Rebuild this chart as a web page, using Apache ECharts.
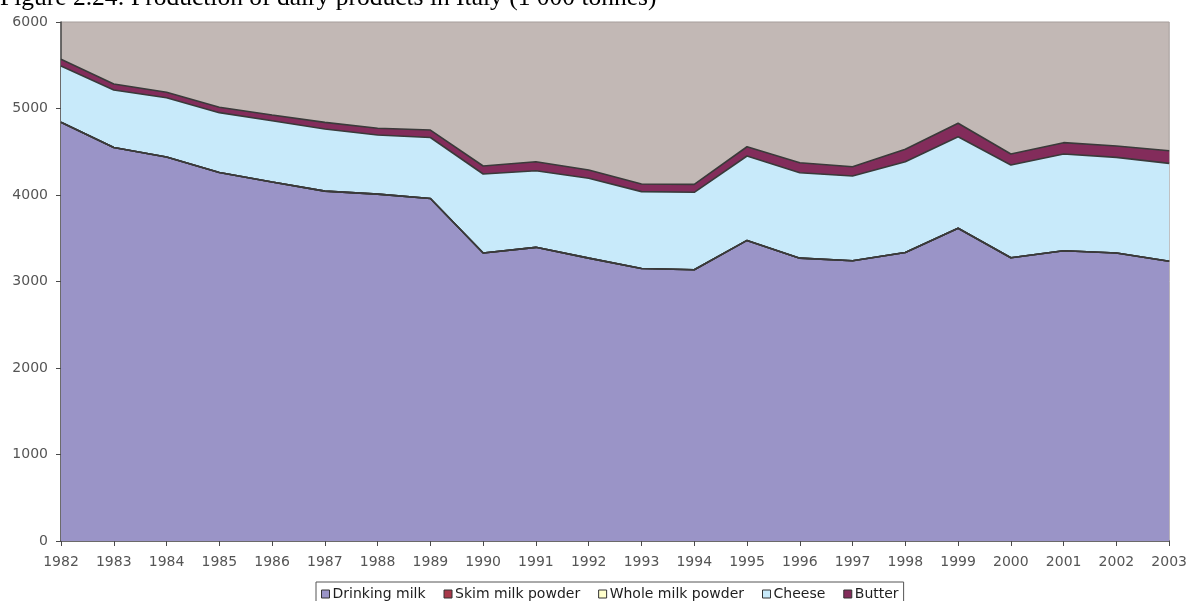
<!DOCTYPE html>
<html>
<head>
<meta charset="utf-8">
<script src="https://cdn.jsdelivr.net/npm/echarts@6/dist/echarts.min.js"></script>
<style>
  html, body { margin: 0; padding: 0; background: #ffffff; }
  #chart { width: 1190px; height: 601px; }
</style>
</head>
<body>
<div id="chart"></div>
<script>
// Production of dairy products in Italy, 1 000 tonnes
const years = ['1982','1983','1984','1985','1986','1987','1988','1989','1990','1991','1992',
               '1993','1994','1995','1996','1997','1998','1999','2000','2001','2002','2003'];

const drinkingMilk = [4840,4550,4440,4260,4150,4045,4010,3960,3330,3395,3270,
                      3150,3135,3475,3270,3240,3335,3615,3275,3355,3330,3235];
const skimMilkPowder = [0,0,0,0,0,0,0,0,0,0,0,0,0,0,0,0,0,0,0,0,0,0];
const wholeMilkPowder = [0,0,0,0,0,0,0,0,0,0,0,0,0,0,0,0,0,0,0,0,0,0];
const cheese = [651,664,685,692,709,718,684,705,913,886,923,
                889,896,976,988,980,1050,1059,1072,1119,1105,1131];
const butter = [78,69,62,62,66,77,77,86,92,104,96,
                88,92,107,115,107,143,155,127,131,131,146];

const yTicks = { min: 0, max: 6000, interval: 1000 };

const titleText = 'Figure 2.24: Production of dairy products in Italy (1 000 tonnes)';

const edge = '#3a3a3a';
function band(name, values, fill) {
  return {
    name: name,
    type: 'line',
    stack: 'total',
    data: values,
    symbol: 'none',
    color: fill,
    lineStyle: { color: edge, width: 1.6 },
    areaStyle: { color: fill, opacity: 1 },
    emphasis: { disabled: true }
  };
}

const chart = echarts.init(document.getElementById('chart'), null, { renderer: 'canvas' });
chart.setOption({
  animation: false,
  backgroundColor: '#ffffff',
  textStyle: { fontFamily: 'DejaVu Sans' },
  graphic: [{
    type: 'text',
    x: 0,
    y: 11,
    style: {
      text: titleText,
      fontFamily: 'Liberation Serif',
      fontSize: 25.5,
      fill: '#000000',
      verticalAlign: 'bottom'
    }
  }],
  grid: {
    left: 61, right: 18, top: 22, bottom: 60,
    show: true,
    backgroundColor: '#C2B8B5',
    borderColor: '#a59d9b',
    borderWidth: 1
  },
  legend: {
    left: 316,
    top: 582,
    icon: 'rect',
    itemWidth: 8,
    itemHeight: 8,
    itemGap: 18,
    padding: [5, 5, 6, 5],
    borderColor: '#555',
    borderWidth: 1,
    backgroundColor: '#ffffff',
    itemStyle: { borderColor: '#333', borderWidth: 1 },
    textStyle: { fontFamily: 'DejaVu Sans', fontSize: 14, color: '#1e1e1e', padding: [0, 0, 0, -2] },
    data: ['Drinking milk', 'Skim milk powder', 'Whole milk powder', 'Cheese', 'Butter']
  },
  xAxis: {
    type: 'category',
    data: years,
    boundaryGap: false,
    axisLine: { lineStyle: { color: '#4a4a4a', width: 1.5 } },
    axisTick: { show: true, length: 5, alignWithLabel: true, lineStyle: { color: '#4a4a4a' } },
    axisLabel: { color: '#555', fontSize: 14, fontFamily: 'DejaVu Sans', margin: 14 },
    splitLine: { show: false }
  },
  yAxis: {
    type: 'value',
    min: yTicks.min,
    max: yTicks.max,
    interval: yTicks.interval,
    axisLine: { show: true, lineStyle: { color: '#4a4a4a', width: 1.5 } },
    axisTick: { show: true, length: 5, lineStyle: { color: '#4a4a4a' } },
    axisLabel: {
      color: '#555', fontSize: 14, fontFamily: 'DejaVu Sans', margin: 13,
      formatter: function (v) { return String(v); }
    },
    splitLine: { show: false }
  },
  series: [
    band('Drinking milk', drinkingMilk, '#9A94C7'),
    band('Skim milk powder', skimMilkPowder, '#A8384A'),
    band('Whole milk powder', wholeMilkPowder, '#FFFFCC'),
    band('Cheese', cheese, '#C8EAFA'),
    band('Butter', butter, '#832C5B')
  ]
});
</script>
</body>
</html>
